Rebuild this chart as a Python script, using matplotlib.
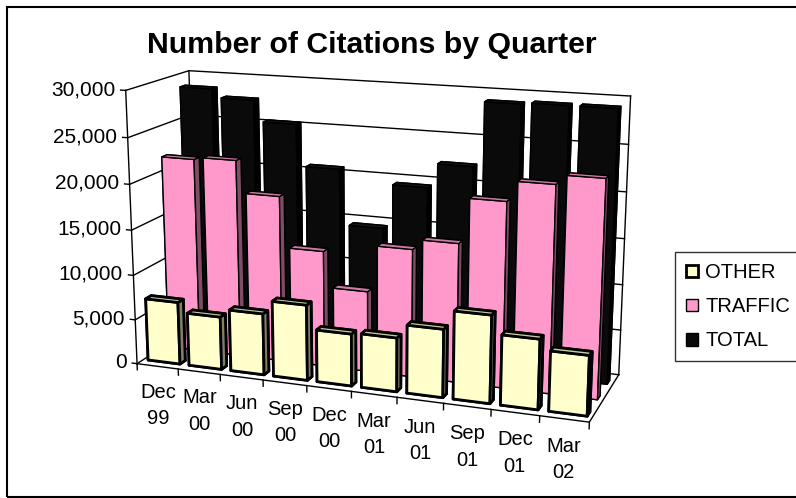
import numpy as np
import matplotlib.pyplot as plt
from matplotlib.patches import Patch, Rectangle
from mpl_toolkits.mplot3d import proj3d

plt.rcParams['font.family'] = ['Liberation Sans', 'DejaVu Sans']

# data
quarters = ['Dec\n99', 'Mar\n00', 'Jun\n00', 'Sep\n00', 'Dec\n00',
            'Mar\n01', 'Jun\n01', 'Sep\n01', 'Dec\n01', 'Mar\n02']
other = [7000, 5900, 6800, 8300, 5700, 5850, 7350, 9400, 7450, 6350]
traffic = [21750, 22000, 18450, 12850, 8900, 14000, 15100, 19950, 22100, 23100]
total = [28700, 27750, 25400, 20800, 14650, 19550, 22200, 29100, 29250, 29250]
series_names = ['OTHER', 'TRAFFIC', 'TOTAL']
value_ticks = [0, 5000, 10000, 15000, 20000, 25000, 30000]

# face colours in bar3d order: bottom, top, front, back, left, right
other_faces = ['#FFFFCC', '#CCCCA3', '#FFFFCC', '#FFFFCC', '#FFFFCC', '#808066']
traffic_faces = ['#FF99CC', '#CC7AA3', '#FF99CC', '#FF99CC', '#FF99CC', '#804D66']
total_faces = ['#000000', '#141414', '#0A0A0A', '#000000', '#000000', '#000000']

fig = plt.figure(figsize=(7.96, 4.98), dpi=100)
ax = fig.add_axes([-0.0138, 0.0158, 0.954, 1.0], projection='3d', computed_zorder=False)
ax.set_proj_type('persp', focal_length=0.571)
ax.view_init(elev=14.68, azim=-69.95)
ax.set_axis_off()

n = len(quarters)
n_rows = len(series_names)
zmax = value_ticks[-1]
bw = 0.78      # column width (category units)
bd = 0.26      # column depth (series-row units)
front = 0.31   # gap in front of each row
xs = np.arange(n) + (1 - bw) / 2

ax.set_xlim(0, n)
ax.set_ylim(0, n_rows)
ax.set_zlim(0, zmax)
ax.set_box_aspect((n, 2.901, 6.008), zoom=1.112)
ax.set_xticks([])
ax.set_yticks([])
ax.set_zticks([])

line_kw = dict(color='black', lw=1.0, clip_on=False)

# walls: gridlines on the left wall and the back wall
for v in value_ticks:
    ax.plot([0, 0, n], [0, n_rows, n_rows], [v, v, v], zorder=1, **line_kw)
ax.plot([0, 0], [n_rows, n_rows], [0, zmax], zorder=1, **line_kw)
ax.plot([n, n], [n_rows, n_rows], [0, zmax], zorder=1, **line_kw)

# bars, back row first
rows = [(total, total_faces, 1.0), (traffic, traffic_faces, 1.0), (other, other_faces, 2.0)]
for k, (vals, faces, lw) in enumerate(rows):
    r = n_rows - 1 - k
    ys = np.full(n, r + front)
    col = ax.bar3d(xs, ys, np.zeros(n), bw, bd, vals, color=faces * n, shade=False,
                   edgecolor='black', linewidth=lw, zorder=2 + k)
    col.set_clip_on(False)

# floor edges, value axis and ticks
ax.plot([0, n, n], [0, 0, n_rows], [0, 0, 0], zorder=6, **line_kw)
ax.plot([0, 0], [0, 0], [0, zmax], zorder=6, **line_kw)
for v in value_ticks:
    ax.plot([0, -0.12], [0, 0], [v, v], zorder=6, **line_kw)
for k in range(n + 1):
    ax.plot([k, k], [0, 0], [0, -700], zorder=6, **line_kw)

# tick labels as plain 2d text at their projected spots
M = ax.get_proj()
for v in value_ticks:
    px, py, _ = proj3d.proj_transform(-0.25, 0, v, M)
    ax.text2D(px, py, f'{v:,}', transform=ax.transData, ha='right', va='center',
              fontsize=15)
for i, q in enumerate(quarters):
    px, py, _ = proj3d.proj_transform(i + 0.5, 0, -1900, M)
    ax.text2D(px, py, q, transform=ax.transData, ha='center', va='top',
              fontsize=14.5, linespacing=1.5)

fig.text(0.467, 1 - 53 / 498, 'Number of Citations by Quarter', ha='center',
         va='baseline', fontsize=21.8, fontweight='bold')

handles = [Patch(facecolor=other_faces[2], edgecolor='black', linewidth=2.0),
           Patch(facecolor=traffic_faces[2], edgecolor='black', linewidth=1.0),
           Patch(facecolor=total_faces[2], edgecolor='black', linewidth=1.0)]
leg = fig.legend(handles, series_names, loc='upper left',
                 bbox_to_anchor=(675 / 796, 1 - 252 / 498), fontsize=14.5,
                 frameon=True, fancybox=False, edgecolor='black',
                 handlelength=0.6, handleheight=0.6, handletextpad=0.35,
                 labelspacing=0.75, borderpad=0.55, borderaxespad=0)
leg.get_frame().set_linewidth(1.0)

fig.patches.append(Rectangle((7 / 796, 1 / 498), 1.0, 490 / 498,
                             transform=fig.transFigure, fill=False,
                             edgecolor='black', linewidth=1.5))

fig.savefig('out.png', dpi=100)
